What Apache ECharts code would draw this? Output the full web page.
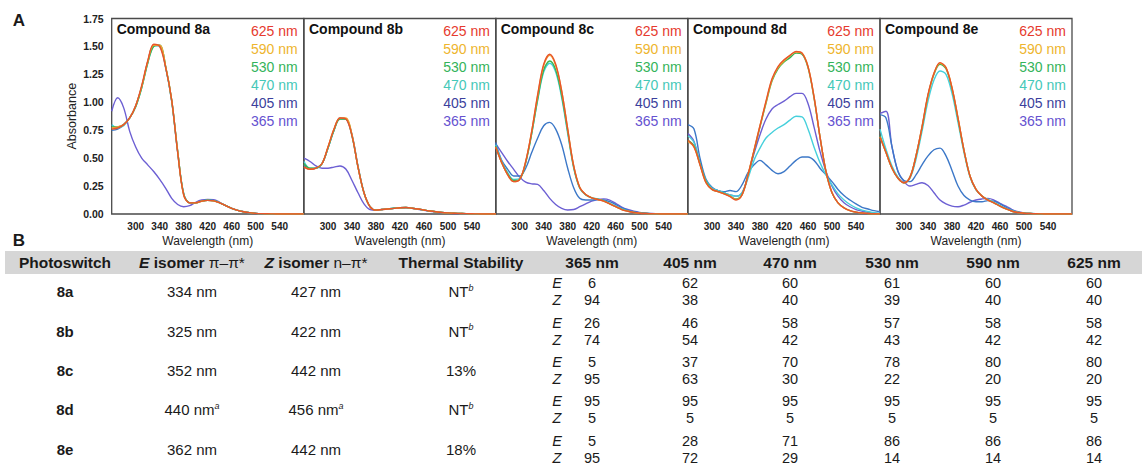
<!DOCTYPE html>
<html>
<head>
<meta charset="utf-8">
<script src="https://cdn.jsdelivr.net/npm/echarts@6/dist/echarts.min.js"></script>
<style>
html, body { margin: 0; padding: 0; background: #fff; }
#main { width: 1142px; height: 464px; }
</style>
</head>
<body>
<div id="main"></div>
<script>
// wavelength grid (nm) shared by all spectra
var wavelengths = [260,270,280,290,300,310,320,330,340,350,360,370,380,390,400,410,420,430,440,450,460,470,480,490,500,510,520,530,540,550,560,570,580];
var compounds = ['8a', '8b', '8c', '8d', '8e'];
var irradiation = ['625', '590', '530', '470', '405', '365'];
var xTickLabels = [300, 340, 380, 420, 460, 500, 540];

// absorbance, one array per compound and light source
var a8a_625 = [0.76,0.77,0.80,0.86,0.97,1.15,1.37,1.52,1.50,1.31,1.02,0.55,0.17,0.10,0.10,0.115,0.122,0.118,0.10,0.075,0.05,0.032,0.02,0.012,0.006,0.003,0.002,0.001,0,0,0,0,0];
var a8a_590 = [0.77,0.78,0.80,0.86,0.97,1.14,1.36,1.51,1.51,1.32,1.02,0.56,0.17,0.10,0.10,0.114,0.122,0.118,0.10,0.075,0.05,0.032,0.02,0.012,0.006,0.003,0.002,0.001,0,0,0,0,0];
var a8a_530 = [0.78,0.78,0.80,0.86,0.96,1.13,1.35,1.50,1.51,1.32,1.02,0.56,0.18,0.10,0.10,0.115,0.123,0.119,0.10,0.076,0.05,0.032,0.02,0.012,0.006,0.003,0.002,0.001,0,0,0,0,0];
var a8a_470 = [0.80,0.77,0.79,0.86,0.96,1.13,1.35,1.50,1.51,1.31,1.01,0.56,0.18,0.10,0.10,0.115,0.123,0.12,0.10,0.076,0.05,0.032,0.02,0.012,0.006,0.003,0.002,0.001,0,0,0,0,0];
var a8a_405 = [0.75,0.76,0.80,0.86,0.97,1.14,1.36,1.51,1.50,1.31,1.01,0.55,0.18,0.10,0.10,0.116,0.124,0.12,0.10,0.076,0.05,0.032,0.02,0.012,0.006,0.003,0.002,0.001,0,0,0,0,0];
var a8a_365 = [0.92,1.04,0.95,0.74,0.60,0.50,0.44,0.38,0.31,0.23,0.14,0.085,0.065,0.075,0.105,0.125,0.13,0.128,0.105,0.075,0.05,0.032,0.02,0.011,0.006,0.003,0.002,0.001,0,0,0,0,0];

var a8b_625 = [0.42,0.40,0.41,0.45,0.60,0.76,0.86,0.85,0.70,0.42,0.19,0.065,0.035,0.04,0.045,0.05,0.056,0.058,0.052,0.045,0.036,0.027,0.02,0.014,0.01,0.007,0.005,0.003,0.002,0.001,0,0,0];
var a8b_590 = [0.42,0.40,0.41,0.45,0.60,0.76,0.86,0.86,0.71,0.42,0.19,0.066,0.035,0.04,0.045,0.05,0.056,0.058,0.052,0.045,0.036,0.027,0.02,0.014,0.01,0.007,0.005,0.003,0.002,0.001,0,0,0];
var a8b_530 = [0.45,0.41,0.41,0.45,0.59,0.75,0.85,0.85,0.70,0.42,0.19,0.066,0.036,0.04,0.046,0.051,0.056,0.058,0.052,0.045,0.036,0.027,0.02,0.014,0.01,0.007,0.005,0.003,0.002,0.001,0,0,0];
var a8b_470 = [0.47,0.41,0.41,0.45,0.59,0.75,0.85,0.85,0.70,0.42,0.19,0.066,0.036,0.04,0.046,0.051,0.056,0.058,0.052,0.045,0.036,0.027,0.02,0.014,0.01,0.007,0.005,0.003,0.002,0.001,0,0,0];
var a8b_405 = [0.44,0.40,0.41,0.45,0.59,0.75,0.86,0.85,0.71,0.43,0.19,0.066,0.036,0.04,0.046,0.051,0.056,0.058,0.052,0.045,0.036,0.027,0.02,0.014,0.01,0.007,0.005,0.003,0.002,0.001,0,0,0];
var a8b_365 = [0.50,0.47,0.43,0.41,0.41,0.42,0.43,0.40,0.30,0.19,0.09,0.04,0.035,0.04,0.045,0.05,0.054,0.055,0.05,0.042,0.032,0.025,0.018,0.012,0.008,0.005,0.003,0.002,0.001,0,0,0,0];

var a8c_625 = [0.60,0.46,0.35,0.29,0.31,0.47,0.74,1.07,1.34,1.43,1.34,1.10,0.76,0.43,0.24,0.175,0.145,0.13,0.115,0.09,0.065,0.04,0.025,0.013,0.007,0.004,0.002,0.001,0,0,0,0,0];
var a8c_590 = [0.60,0.46,0.35,0.29,0.31,0.47,0.74,1.06,1.33,1.42,1.33,1.10,0.76,0.43,0.24,0.175,0.145,0.13,0.115,0.09,0.065,0.04,0.025,0.013,0.007,0.004,0.002,0.001,0,0,0,0,0];
var a8c_530 = [0.61,0.46,0.36,0.30,0.31,0.46,0.72,1.03,1.29,1.37,1.29,1.06,0.74,0.42,0.235,0.172,0.145,0.132,0.118,0.092,0.067,0.042,0.026,0.014,0.008,0.004,0.002,0.001,0,0,0,0,0];
var a8c_470 = [0.62,0.47,0.37,0.31,0.32,0.46,0.72,1.02,1.27,1.35,1.27,1.04,0.72,0.41,0.23,0.17,0.145,0.135,0.12,0.095,0.07,0.045,0.028,0.015,0.008,0.004,0.002,0.001,0,0,0,0,0];
var a8c_405 = [0.64,0.48,0.40,0.34,0.34,0.41,0.55,0.68,0.79,0.82,0.76,0.62,0.41,0.235,0.14,0.125,0.125,0.13,0.125,0.11,0.085,0.055,0.035,0.02,0.01,0.005,0.003,0.001,0,0,0,0,0];
var a8c_365 = [0.63,0.55,0.47,0.40,0.33,0.285,0.27,0.265,0.21,0.14,0.085,0.05,0.036,0.04,0.065,0.09,0.115,0.13,0.135,0.125,0.095,0.062,0.04,0.025,0.015,0.01,0.005,0.003,0.001,0,0,0,0];

var a8d_625 = [0.66,0.60,0.44,0.28,0.22,0.20,0.18,0.155,0.125,0.17,0.35,0.57,0.79,1.01,1.21,1.32,1.38,1.42,1.455,1.44,1.32,1.05,0.69,0.38,0.19,0.10,0.055,0.03,0.017,0.009,0.005,0.002,0.001];
var a8d_590 = [0.65,0.60,0.44,0.28,0.22,0.20,0.18,0.16,0.13,0.17,0.35,0.57,0.79,1.00,1.20,1.31,1.37,1.42,1.45,1.44,1.32,1.05,0.69,0.38,0.19,0.10,0.055,0.03,0.017,0.009,0.005,0.002,0.001];
var a8d_530 = [0.66,0.61,0.45,0.29,0.22,0.20,0.185,0.16,0.135,0.175,0.35,0.56,0.78,0.99,1.19,1.30,1.36,1.40,1.44,1.43,1.31,1.04,0.69,0.38,0.19,0.10,0.056,0.03,0.017,0.009,0.005,0.002,0.001];
var a8d_470 = [0.70,0.64,0.45,0.30,0.23,0.21,0.19,0.17,0.16,0.19,0.32,0.48,0.59,0.68,0.73,0.77,0.80,0.84,0.875,0.87,0.76,0.60,0.46,0.35,0.26,0.18,0.125,0.085,0.055,0.035,0.022,0.012,0.006];
var a8d_405 = [0.80,0.76,0.50,0.31,0.24,0.21,0.20,0.21,0.20,0.26,0.37,0.44,0.48,0.44,0.39,0.36,0.38,0.43,0.48,0.51,0.51,0.48,0.41,0.35,0.29,0.22,0.165,0.125,0.09,0.06,0.045,0.03,0.02];
var a8d_365 = [0.72,0.65,0.45,0.30,0.23,0.21,0.19,0.17,0.16,0.19,0.34,0.54,0.71,0.85,0.94,0.98,1.01,1.05,1.08,1.08,0.99,0.78,0.56,0.38,0.25,0.16,0.10,0.065,0.04,0.025,0.015,0.008,0.004];

var a8e_625 = [0.69,0.55,0.41,0.32,0.28,0.33,0.52,0.78,1.07,1.26,1.355,1.31,1.13,0.86,0.57,0.34,0.22,0.16,0.125,0.10,0.07,0.045,0.025,0.013,0.007,0.004,0.002,0.001,0,0,0,0,0];
var a8e_590 = [0.69,0.55,0.41,0.32,0.28,0.33,0.52,0.78,1.06,1.26,1.35,1.31,1.13,0.86,0.57,0.34,0.22,0.16,0.125,0.10,0.07,0.045,0.025,0.013,0.007,0.004,0.002,0.001,0,0,0,0,0];
var a8e_530 = [0.70,0.55,0.41,0.32,0.28,0.33,0.52,0.77,1.06,1.25,1.34,1.30,1.12,0.85,0.57,0.34,0.22,0.16,0.126,0.10,0.07,0.045,0.025,0.013,0.007,0.004,0.002,0.001,0,0,0,0,0];
var a8e_470 = [0.76,0.58,0.43,0.33,0.28,0.32,0.49,0.74,1.01,1.20,1.28,1.25,1.08,0.82,0.55,0.33,0.215,0.16,0.13,0.105,0.075,0.05,0.03,0.015,0.008,0.004,0.002,0.001,0,0,0,0,0];
var a8e_405 = [0.89,0.86,0.60,0.38,0.30,0.29,0.35,0.44,0.52,0.575,0.59,0.52,0.39,0.25,0.165,0.125,0.11,0.11,0.12,0.115,0.09,0.06,0.035,0.016,0.008,0.004,0.002,0.001,0,0,0,0,0];
var a8e_365 = [0.90,0.92,0.60,0.38,0.29,0.25,0.265,0.28,0.255,0.19,0.125,0.09,0.07,0.065,0.08,0.105,0.125,0.135,0.14,0.125,0.095,0.07,0.04,0.02,0.01,0.005,0.002,0.001,0,0,0,0,0];

// table B
var tableRows = ['8a', '8b', '8c', '8d', '8e'];
var eIsomer = ['334 nm', '325 nm', '352 nm', '440 nm', '362 nm'];
var eIsomerNote = ['', '', '', 'a', ''];
var zIsomer = ['427 nm', '422 nm', '442 nm', '456 nm', '442 nm'];
var zIsomerNote = ['', '', '', 'a', ''];
var thermal = ['NT', 'NT', '13%', 'NT', '18%'];
var thermalNote = ['b', 'b', '', 'b', ''];
var pssHeaders = ['365 nm', '405 nm', '470 nm', '530 nm', '590 nm', '625 nm'];
var pssE = [[6,62,60,61,60,60],[26,46,58,57,58,58],[5,37,70,78,80,80],[95,95,95,95,95,95],[5,28,71,86,86,86]];
var pssZ = [[94,38,40,39,40,40],[74,54,42,43,42,42],[95,63,30,22,20,20],[5,5,5,5,5,5],[95,72,29,14,14,14]];

var spectra = {
  '8a': {'625': a8a_625, '590': a8a_590, '530': a8a_530, '470': a8a_470, '405': a8a_405, '365': a8a_365},
  '8b': {'625': a8b_625, '590': a8b_590, '530': a8b_530, '470': a8b_470, '405': a8b_405, '365': a8b_365},
  '8c': {'625': a8c_625, '590': a8c_590, '530': a8c_530, '470': a8c_470, '405': a8c_405, '365': a8c_365},
  '8d': {'625': a8d_625, '590': a8d_590, '530': a8d_530, '470': a8d_470, '405': a8d_405, '365': a8d_365},
  '8e': {'625': a8e_625, '590': a8e_590, '530': a8e_530, '470': a8e_470, '405': a8e_405, '365': a8e_365}
};

var lineColor = {'625': '#e8552b', '590': '#f0a530', '530': '#3bb450', '470': '#46d0dc', '405': '#3c78c8', '365': '#6c5fd3'};
var legendColor = {'625': '#e63a2e', '590': '#eeb52e', '530': '#34b35a', '470': '#45c8b8', '405': '#3b3f9c', '365': '#6552d0'};

var FONT = '"Liberation Sans", Arial, Helvetica, sans-serif';
var gridLeft = [111.7, 304, 495.7, 688, 880];
var gridW = 192, gridTop = 18.5, gridH = 195.5;

var chart = echarts.init(document.getElementById('main'), null, {renderer: 'svg'});

var grids = [], xAxes = [], yAxes = [], series = [], graphics = [];

compounds.forEach(function (c, i) {
  grids.push({
    left: gridLeft[i], top: gridTop, width: gridW, height: gridH,
    show: true, borderColor: '#4a4a4a', borderWidth: 1.3, backgroundColor: 'transparent'
  });
  xAxes.push({
    gridIndex: i, type: 'value', min: 260, max: 580, interval: 20,
    axisLine: {show: false}, axisTick: {show: false}, splitLine: {show: false},
    axisLabel: {
      fontFamily: FONT, fontWeight: 'bold', fontSize: 10, color: '#222', margin: 7,
      formatter: function (v) { return xTickLabels.indexOf(v) >= 0 ? String(v) : ''; }
    },
    name: 'Wavelength (nm)', nameLocation: 'middle', nameGap: 21,
    nameTextStyle: {fontFamily: FONT, fontSize: 12, color: '#222'}
  });
  yAxes.push({
    gridIndex: i, type: 'value', min: 0, max: 1.75, interval: 0.25,
    axisLine: {show: false}, axisTick: {show: false}, splitLine: {show: false},
    axisLabel: {
      show: i === 0, fontFamily: FONT, fontWeight: 'bold', fontSize: 10.5, color: '#222', margin: 8,
      formatter: function (v) { return v.toFixed(2); }
    },
    name: i === 0 ? 'Absorbance' : '', nameLocation: 'middle', nameGap: 33, nameRotate: 90,
    nameTextStyle: {fontFamily: FONT, fontSize: 12.5, color: '#222'}
  });

  // draw 365 first so the E-rich curves sit on top
  irradiation.slice().reverse().forEach(function (w) {
    var vals = spectra[c][w];
    series.push({
      type: 'line', xAxisIndex: i, yAxisIndex: i, symbol: 'none', smooth: 0.35,
      lineStyle: {color: lineColor[w], width: 1.4}, silent: true,
      data: wavelengths.map(function (x, k) { return [x, vals[k]]; })
    });
  });

  graphics.push({
    type: 'text', x: gridLeft[i] + 5, y: 29,
    style: {text: 'Compound ' + c, fontFamily: FONT, fontWeight: 'bold', fontSize: 14, fill: '#111',
      align: 'left', verticalAlign: 'middle', textAlign: 'left', textVerticalAlign: 'middle'}
  });
  irradiation.forEach(function (w, r) {
    graphics.push({
      type: 'text', x: gridLeft[i] + gridW - 6, y: 31 + r * 17.9,
      style: {text: w + ' nm', fontFamily: FONT, fontSize: 14, fill: legendColor[w],
        align: 'right', verticalAlign: 'middle', textAlign: 'right', textVerticalAlign: 'middle'}
    });
  });
});

function txt(x, y, text, opts) {
  var st = {text: text, fontFamily: FONT, fontSize: 15, fill: '#1a1a1a',
    align: 'center', verticalAlign: 'middle', textAlign: 'center', textVerticalAlign: 'middle'};
  for (var k in opts) st[k] = opts[k];
  return {type: 'text', x: x, y: y, style: st};
}

var supRich = {sup: {fontFamily: FONT, fontSize: 9, fontStyle: 'italic', verticalAlign: 'top', lineHeight: 17}};

// panel letters
graphics.push(txt(19, 20, 'A', {fontWeight: 'bold', fontSize: 17}));
graphics.push(txt(19, 240, 'B', {fontWeight: 'bold', fontSize: 17}));

// header bar
graphics.push({type: 'rect', shape: {x: 5, y: 251, width: 1137, height: 23}, style: {fill: '#d6d6d6'}});

var colPhoto = 65, colE = 192, colZ = 316, colT = 461, colEZ = 557;
var colPss = [592, 690, 790, 892, 993, 1094];
var headerY = 262.5;
var rowY = [291.5, 331, 370, 409.5, 449];
var half = 8.5;   // offset of the E and Z lines from the row centre

graphics.push(txt(colPhoto, headerY, 'Photoswitch', {fontWeight: 'bold', fontSize: 15.5}));
graphics.push(txt(colE, headerY, '{bi|E} isomer {r|\u03c0\u2013\u03c0*}', {fontWeight: 'bold', fontSize: 15.5,
  rich: {bi: {fontFamily: FONT, fontSize: 15.5, fontWeight: 'bold', fontStyle: 'italic'},
         r: {fontFamily: FONT, fontSize: 15.5, fontWeight: 'normal'}}}));
graphics.push(txt(colZ, headerY, '{bi|Z} isomer {r|n\u2013\u03c0*}', {fontWeight: 'bold', fontSize: 15.5,
  rich: {bi: {fontFamily: FONT, fontSize: 15.5, fontWeight: 'bold', fontStyle: 'italic'},
         r: {fontFamily: FONT, fontSize: 15.5, fontWeight: 'normal'}}}));
graphics.push(txt(colT, headerY, 'Thermal Stability', {fontWeight: 'bold', fontSize: 15.5}));
pssHeaders.forEach(function (h, j) {
  graphics.push(txt(colPss[j], headerY, h, {fontWeight: 'bold', fontSize: 15.5}));
});

tableRows.forEach(function (name, r) {
  var y = rowY[r];
  graphics.push(txt(colPhoto, y, name, {fontWeight: 'bold'}));
  graphics.push(txt(colE, y, eIsomer[r] + (eIsomerNote[r] ? '{sup|' + eIsomerNote[r] + '}' : ''), {rich: supRich}));
  graphics.push(txt(colZ, y, zIsomer[r] + (zIsomerNote[r] ? '{sup|' + zIsomerNote[r] + '}' : ''), {rich: supRich}));
  graphics.push(txt(colT, y, thermal[r] + (thermalNote[r] ? '{sup|' + thermalNote[r] + '}' : ''), {rich: supRich}));
  graphics.push(txt(colEZ, y - half, 'E', {fontStyle: 'italic', fontSize: 14.5}));
  graphics.push(txt(colEZ, y + half, 'Z', {fontStyle: 'italic', fontSize: 14.5}));
  pssE[r].forEach(function (v, j) {
    graphics.push(txt(colPss[j], y - half, String(v), {fontSize: 14.5}));
    graphics.push(txt(colPss[j], y + half, String(pssZ[r][j]), {fontSize: 14.5}));
  });
});

chart.setOption({
  animation: false,
  backgroundColor: '#fff',
  grid: grids,
  xAxis: xAxes,
  yAxis: yAxes,
  series: series,
  graphic: graphics
});
</script>
</body>
</html>
